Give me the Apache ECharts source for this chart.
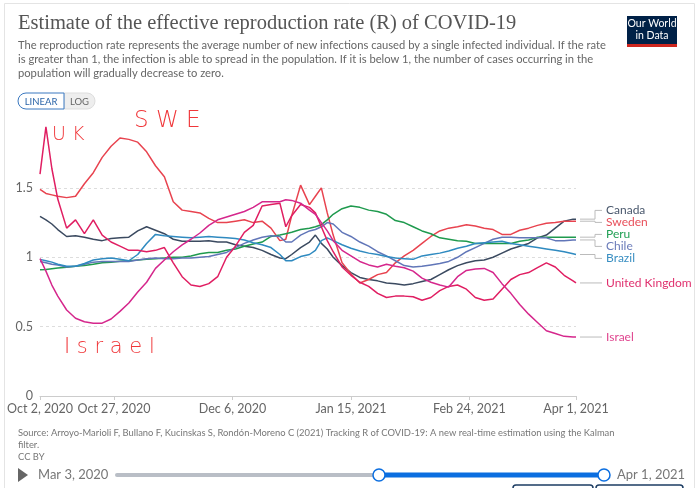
<!DOCTYPE html>
<html>
<head>
<meta charset="utf-8">
<script src="https://cdn.jsdelivr.net/npm/echarts@6/dist/echarts.min.js"></script>
<style>
html, body { margin: 0; padding: 0; background: #fff; }
#chart { width: 700px; height: 488px; }
</style>
</head>
<body>
<div id="chart"></div>
<script>
// days counted from Oct 2, 2020
var days = [0, 2, 4, 6, 9, 12, 15, 18, 21, 24, 27, 30, 33, 36, 39, 42, 45, 48, 51, 54, 57, 60, 63, 66, 69,
    72, 75, 78, 81, 83, 85, 88, 91, 93, 95, 97, 99, 102, 105, 108, 111, 114, 117, 120, 123, 126, 129, 132,
    135, 138, 141, 144, 147, 150, 153, 156, 159, 162, 165, 168, 171, 174, 177, 180, 181]
var tickDays = [0, 25, 65, 105, 145, 181]
var tickLabels = ['Oct 2, 2020', 'Oct 27, 2020', 'Dec 6, 2020', 'Jan 15, 2021', 'Feb 24, 2021', 'Apr 1, 2021']

var canada = [1.295, 1.27, 1.24, 1.20, 1.15, 1.155, 1.145, 1.13, 1.12, 1.135, 1.14, 1.145, 1.19, 1.22, 1.195,
    1.17, 1.13, 1.115, 1.115, 1.115, 1.12, 1.11, 1.11, 1.09, 1.08, 1.07, 1.05, 1.02, 0.995, 0.99,
    1.02, 1.07, 1.11, 1.16, 1.10, 1.06, 1.00, 0.94, 0.89, 0.855, 0.84, 0.83, 0.815, 0.81, 0.80,
    0.81, 0.825, 0.84, 0.875, 0.91, 0.94, 0.96, 0.975, 0.98, 1.00, 1.03, 1.06, 1.08, 1.10, 1.14,
    1.16, 1.21, 1.26, 1.275, 1.275]
var sweden = [1.49, 1.46, 1.45, 1.44, 1.43, 1.44, 1.53, 1.61, 1.72, 1.80, 1.86, 1.85, 1.83, 1.76, 1.66,
    1.58, 1.40, 1.34, 1.33, 1.32, 1.28, 1.25, 1.25, 1.26, 1.27, 1.25, 1.26, 1.21, 1.12, 1.13,
    1.30, 1.52, 1.38, 1.44, 1.50, 1.32, 1.16, 0.96, 0.88, 0.815, 0.84, 0.875, 0.89, 0.96, 1.01,
    1.05, 1.10, 1.15, 1.19, 1.21, 1.22, 1.235, 1.225, 1.21, 1.20, 1.165, 1.165, 1.195, 1.21, 1.23,
    1.245, 1.25, 1.26, 1.26, 1.26]
var peru = [0.91, 0.912, 0.918, 0.922, 0.928, 0.935, 0.94, 0.95, 0.96, 0.965, 0.972, 0.975, 0.98, 0.985, 0.99,
    0.995, 1.0, 1.0, 1.01, 1.025, 1.035, 1.035, 1.05, 1.06, 1.08, 1.095, 1.11, 1.15, 1.16, 1.17,
    1.18, 1.20, 1.21, 1.22, 1.235, 1.27, 1.31, 1.35, 1.37, 1.36, 1.34, 1.33, 1.31, 1.265, 1.25,
    1.22, 1.19, 1.17, 1.14, 1.13, 1.12, 1.115, 1.10, 1.10, 1.10, 1.10, 1.10, 1.115, 1.125, 1.145,
    1.145, 1.145, 1.145, 1.145, 1.145]
var chile = [0.97, 0.96, 0.95, 0.945, 0.93, 0.935, 0.95, 0.965, 0.97, 0.97, 0.97, 0.97, 0.98, 0.99, 0.995,
    0.99, 0.99, 0.995, 0.995, 1.0, 1.005, 1.02, 1.035, 1.07, 1.10, 1.125, 1.145, 1.155, 1.15, 1.11,
    1.11, 1.16, 1.19, 1.20, 1.22, 1.25, 1.24, 1.18, 1.15, 1.11, 1.08, 1.04, 1.01, 0.975, 0.94,
    0.93, 0.935, 0.945, 0.955, 0.97, 1.0, 1.04, 1.07, 1.10, 1.13, 1.145, 1.145, 1.14, 1.14, 1.14,
    1.14, 1.12, 1.12, 1.125, 1.125]
var brazil = [0.985, 0.975, 0.965, 0.95, 0.935, 0.935, 0.955, 0.98, 0.99, 0.995, 0.985, 0.975, 1.02, 1.10, 1.165,
    1.155, 1.15, 1.145, 1.14, 1.145, 1.15, 1.145, 1.14, 1.135, 1.125, 1.105, 1.09, 1.07, 1.02, 0.975,
    0.975, 1.005, 1.02, 1.05, 1.12, 1.14, 1.12, 1.09, 1.065, 1.045, 1.03, 1.02, 1.005, 0.995, 0.99,
    0.985, 1.01, 1.02, 1.03, 1.045, 1.065, 1.08, 1.10, 1.105, 1.11, 1.115, 1.10, 1.09, 1.08, 1.07,
    1.06, 1.05, 1.04, 1.025, 1.02]
var unitedKingdom = [1.60, 1.94, 1.64, 1.42, 1.21, 1.27, 1.17, 1.27, 1.16, 1.11, 1.08, 1.05, 1.05, 1.04, 1.05,
    1.07, 0.96, 0.86, 0.80, 0.79, 0.81, 0.86, 1.00, 1.08, 1.18, 1.23, 1.37, 1.38, 1.39, 1.22,
    1.30, 1.38, 1.36, 1.32, 1.22, 1.12, 1.04, 0.93, 0.87, 0.82, 0.79, 0.74, 0.71, 0.72, 0.72,
    0.715, 0.69, 0.71, 0.76, 0.79, 0.80, 0.77, 0.71, 0.69, 0.70, 0.77, 0.84, 0.875, 0.89, 0.925,
    0.96, 0.93, 0.87, 0.83, 0.815]
var israel = [0.99, 0.90, 0.80, 0.72, 0.62, 0.56, 0.535, 0.525, 0.525, 0.555, 0.61, 0.67, 0.75, 0.82, 0.92,
    0.98, 1.04, 1.09, 1.13, 1.175, 1.23, 1.27, 1.29, 1.31, 1.33, 1.36, 1.40, 1.40, 1.40, 1.415,
    1.41, 1.39, 1.34, 1.31, 1.25, 1.19, 1.12, 1.05, 1.01, 0.97, 0.945, 0.93, 0.95, 0.935, 0.925,
    0.90, 0.85, 0.82, 0.80, 0.785, 0.86, 0.905, 0.915, 0.92, 0.89, 0.81, 0.74, 0.66, 0.59, 0.53,
    0.47, 0.45, 0.43, 0.425, 0.425]

var countries = ['Canada', 'Sweden', 'Peru', 'Chile', 'Brazil', 'United Kingdom', 'Israel']
var values = [canada, sweden, peru, chile, brazil, unitedKingdom, israel]
var lineColors = ['#3b4a60', '#e8434f', '#1f9a4e', '#6176b8', '#2f8ac0', '#e01e62', '#d5278c']
var labelColors = ['#4a586d', '#e8505b', '#22a055', '#6b7cba', '#3a8fc2', '#e0306e', '#e0458f']

var font = 'Lato, "Noto Sans", sans-serif'
var chart = echarts.init(document.getElementById('chart'), null, { renderer: 'canvas' })

var series = countries.map(function (name, i) {
    return {
        name: name,
        type: 'line',
        showSymbol: false,
        symbol: 'none',
        lineStyle: { width: 1.5, color: lineColors[i] },
        itemStyle: { color: lineColors[i] },
        data: days.map(function (d, k) { return [d, values[i][k]] })
    }
})

var option = {
    animation: false,
    textStyle: { fontFamily: font },
    grid: { left: 40, right: 124, top: 125.5, bottom: 92 },
    xAxis: {
        type: 'value',
        min: 0,
        max: 181,
        axisLine: { show: true, lineStyle: { color: '#cccccc' } },
        axisTick: { show: true, customValues: tickDays, length: 4, lineStyle: { color: '#cccccc' } },
        axisLabel: {
            customValues: tickDays,
            color: '#666',
            fontSize: 12.5,
            margin: 6,
            formatter: function (v) {
                var i = tickDays.indexOf(Math.round(v))
                return i >= 0 ? tickLabels[i] : ''
            }
        },
        splitLine: { show: false }
    },
    yAxis: {
        type: 'value',
        min: 0,
        max: 1.95,
        interval: 0.5,
        axisLine: { show: false },
        axisTick: { show: false },
        axisLabel: {
            color: '#666',
            fontSize: 12.5,
            margin: 7,
            formatter: function (v) {
                return Math.abs(v * 2 - Math.round(v * 2)) < 1e-6 ? String(v) : ''
            }
        },
        splitLine: { show: true, showMinLine: false, showMaxLine: false, lineStyle: { color: '#dddddd', type: [3, 3] } }
    },
    series: series
}
chart.setOption(option)

// labels at the right, spread so they do not overlap
var gap = 12
var items = countries.map(function (name, i) {
    var p = chart.convertToPixel({ gridIndex: 0 }, [181, values[i][values[i].length - 1]])
    return { i: i, x: p[0], y: p[1] }
}).sort(function (a, b) { return a.y - b.y })
var groups = items.map(function (it) { return { list: [it], mean: it.y } })
var changed = true
while (changed) {
    changed = false
    for (var g = 0; g < groups.length - 1; g++) {
        var a = groups[g], b = groups[g + 1]
        var aEnd = a.mean + (a.list.length - 1) * gap / 2
        var bStart = b.mean - (b.list.length - 1) * gap / 2
        if (bStart - aEnd < gap) {
            var list = a.list.concat(b.list)
            var m = list.reduce(function (s, it) { return s + it.y }, 0) / list.length
            groups.splice(g, 2, { list: list, mean: m })
            changed = true
            break
        }
    }
}
var labelGraphics = []
groups.forEach(function (gr) {
    gr.list.forEach(function (it, k) {
        var ly = gr.mean - (gr.list.length - 1) * gap / 2 + k * gap
        labelGraphics.push({
            type: 'polyline',
            silent: true,
            shape: { points: [[it.x + 4, it.y], [it.x + 19, it.y], [it.x + 19, ly], [it.x + 26, ly]] },
            style: { stroke: '#bbbbbb', lineWidth: 1, fill: null }
        })
        labelGraphics.push({
            type: 'text',
            silent: true,
            x: it.x + 30,
            y: ly,
            style: { text: countries[it.i], fill: labelColors[it.i], font: '12px ' + font, verticalAlign: 'middle' }
        })
    })
})

var subtitle = [
    'The reproduction rate represents the average number of new infections caused by a single infected individual. If the rate',
    'is greater than 1, the infection is able to spread in the population. If it is below 1, the number of cases occurring in the',
    'population will gradually decrease to zero.'
]
var source = [
    'Source: Arroyo-Marioli F, Bullano F, Kucinskas S, Rondón-Moreno C (2021) Tracking R of COVID-19: A new real-time estimation using the Kalman',
    'filter.',
    'CC BY'
]

var chrome = [
    // card frame
    { type: 'rect', z: -10, silent: true, shape: { x: 4.5, y: 3.5, width: 690, height: 500 }, style: { fill: '#fff', stroke: '#e4e4e4', lineWidth: 1 } },
    // title
    { type: 'text', x: 18, y: 24, style: { text: 'Estimate of the effective reproduction rate (R) of COVID-19', fill: '#555', font: '20.5px "Liberation Serif", serif', verticalAlign: 'middle' } },
    // logo
    { type: 'rect', shape: { x: 627, y: 16, width: 50, height: 29 }, style: { fill: '#002147' } },
    { type: 'rect', shape: { x: 627, y: 44, width: 50, height: 3 }, style: { fill: '#ce261e' } },
    { type: 'text', x: 652, y: 24, style: { text: 'Our World', fill: '#fff', font: '10.5px ' + font, align: 'center', verticalAlign: 'middle' } },
    { type: 'text', x: 652, y: 36, style: { text: 'in Data', fill: '#fff', font: '10.5px ' + font, align: 'center', verticalAlign: 'middle' } },
    // toggle
    { type: 'rect', shape: { x: 64, y: 93, width: 31, height: 16, r: [0, 8, 8, 0] }, style: { fill: '#eeeeee', stroke: '#dddddd' } },
    { type: 'rect', shape: { x: 18, y: 93, width: 46, height: 16, r: [8, 0, 0, 8] }, style: { fill: '#fff', stroke: '#3a78c0' } },
    { type: 'text', x: 41, y: 101.5, style: { text: 'LINEAR', fill: '#2a64a8', font: '9.5px ' + font, align: 'center', verticalAlign: 'middle' } },
    { type: 'text', x: 79.5, y: 101.5, style: { text: 'LOG', fill: '#666', font: '9.5px ' + font, align: 'center', verticalAlign: 'middle' } },
    // handwritten notes
    { type: 'text', x: 52, y: 135, style: { text: 'U K', fill: '#f0373a', font: '300 19px "DejaVu Sans", sans-serif', verticalAlign: 'middle' } },
    { type: 'text', x: 134, y: 121, style: { text: 'S W E', fill: '#f0373a', font: '300 23px "DejaVu Sans", sans-serif', verticalAlign: 'middle' } },
    { type: 'text', x: 64, y: 348, style: { text: 'I s r a e l', fill: '#f0373a', font: '300 21px "DejaVu Sans", sans-serif', verticalAlign: 'middle' } },
    // timeline
    { type: 'polygon', shape: { points: [[18, 468], [28, 475], [18, 482]] }, style: { fill: '#666' } },
    { type: 'text', x: 38, y: 475, style: { text: 'Mar 3, 2020', fill: '#777', font: '13px ' + font, verticalAlign: 'middle' } },
    { type: 'rect', shape: { x: 115, y: 473, width: 490, height: 4, r: 2 }, style: { fill: '#b9bec6' } },
    { type: 'rect', shape: { x: 379, y: 472.5, width: 225, height: 5 }, style: { fill: '#0b6ee0' } },
    { type: 'circle', shape: { cx: 379, cy: 475, r: 6 }, style: { fill: '#fff', stroke: '#0b6ee0', lineWidth: 1.5 } },
    { type: 'circle', shape: { cx: 604, cy: 475, r: 6 }, style: { fill: '#fff', stroke: '#0b6ee0', lineWidth: 1.5 } },
    { type: 'text', x: 617, y: 475, style: { text: 'Apr 1, 2021', fill: '#777', font: '13px ' + font, verticalAlign: 'middle' } },
    { type: 'rect', shape: { x: 513, y: 485, width: 80, height: 10, r: 3 }, style: { fill: '#fff', stroke: '#1d3d63', lineWidth: 1.5 } },
    { type: 'rect', shape: { x: 596, y: 485, width: 87, height: 10, r: 3 }, style: { fill: '#fff', stroke: '#1d3d63', lineWidth: 1.5 } }
]
subtitle.forEach(function (t, i) {
    chrome.push({ type: 'text', x: 18, y: 45 + i * 14, style: { text: t, fill: '#666', font: '11.2px ' + font, verticalAlign: 'middle' } })
})
source.forEach(function (t, i) {
    chrome.push({ type: 'text', x: 18, y: 433 + i * 12, style: { text: t, fill: '#777', font: '9.4px ' + font, verticalAlign: 'middle' } })
})

chart.setOption({ graphic: chrome.concat(labelGraphics) })
</script>
</body>
</html>
